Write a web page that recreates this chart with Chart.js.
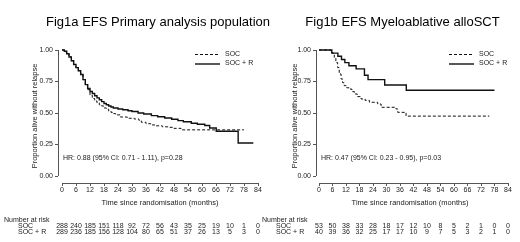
<!DOCTYPE html>
<html>
<head>
<meta charset="utf-8">
<script src="https://cdn.jsdelivr.net/npm/chart.js@4/dist/chart.umd.min.js"></script>
<style>
  body { margin: 0; background: #fff; }
  .panel { position: absolute; top: 0; height: 242px; }
  #p1 { left: 0; width: 290px; z-index: 1; }
  #p2 { left: 260px; width: 260px; z-index: 2; }
</style>
</head>
<body>
<div class="panel" id="p1"><canvas id="km1" width="290" height="242"></canvas></div>
<div class="panel" id="p2"><canvas id="km2" width="260" height="242"></canvas></div>
<script>
// Ticks
const xTicks = [0, 6, 12, 18, 24, 30, 36, 42, 48, 54, 60, 66, 72, 78, 84];
const yTicks = [0, 0.25, 0.5, 0.75, 1];

// Fig1a - primary analysis population
const aSocT = [0, 1, 2, 3, 4, 5, 6, 7, 8, 9, 10, 11, 12, 13, 14, 15, 16, 17, 18, 19, 20, 21, 22, 23, 25, 28, 31, 33, 34, 36, 38, 40, 43, 45.4, 48, 51, 78];
const aSocS = [1, 0.99, 0.97, 0.945, 0.915, 0.885, 0.86, 0.835, 0.805, 0.765, 0.725, 0.685, 0.64, 0.615, 0.595, 0.58, 0.565, 0.555, 0.54, 0.53, 0.515, 0.505, 0.495, 0.485, 0.468, 0.458, 0.452, 0.44, 0.426, 0.415, 0.405, 0.398, 0.39, 0.386, 0.378, 0.366, 0.366];
const aRT = [0, 1, 2, 3, 4, 5, 6, 7, 8, 9, 10, 11, 12, 13, 14, 15, 16, 17, 18, 19, 20, 21, 22, 24, 26, 28.3, 30, 32.6, 35, 38.3, 41, 44, 47, 49.7, 52, 55.4, 58, 61.2, 63.3, 66.1, 75.5, 82];
const aRS = [1, 0.99, 0.97, 0.945, 0.915, 0.885, 0.86, 0.835, 0.805, 0.765, 0.725, 0.695, 0.67, 0.655, 0.637, 0.62, 0.605, 0.59, 0.575, 0.565, 0.555, 0.548, 0.54, 0.532, 0.526, 0.518, 0.512, 0.5, 0.492, 0.479, 0.47, 0.46, 0.45, 0.439, 0.43, 0.418, 0.41, 0.4, 0.381, 0.355, 0.262, 0.262];
const aRiskSoc = [288, 240, 185, 151, 118, 92, 72, 56, 43, 35, 25, 19, 10, 1, 0];
const aRiskR = [289, 236, 185, 156, 128, 104, 80, 65, 51, 37, 26, 13, 5, 3, 0];

// Fig1b - myeloablative alloSCT
const bSocT = [0, 5.3, 6.2, 6.8, 7.5, 8.3, 9, 9.8, 10.5, 11.2, 12.3, 13.5, 14.6, 15.7, 17, 18.7, 20.5, 22.4, 26.1, 27.6, 34.2, 35, 38.7, 75.7];
const bSocS = [1, 0.98, 0.96, 0.94, 0.9, 0.86, 0.81, 0.77, 0.74, 0.717, 0.7, 0.69, 0.67, 0.651, 0.63, 0.611, 0.6, 0.585, 0.571, 0.545, 0.532, 0.505, 0.475, 0.475];
const bRT = [0, 5.7, 8.4, 10, 11.5, 13.3, 16.5, 20.2, 21.8, 29.2, 38.8, 78];
const bRS = [1, 0.975, 0.95, 0.925, 0.9, 0.875, 0.85, 0.8, 0.765, 0.722, 0.68, 0.68];
const bRiskSoc = [53, 50, 38, 33, 28, 18, 17, 12, 10, 8, 5, 2, 1, 0, 0];
const bRiskR = [40, 39, 36, 32, 25, 17, 17, 10, 9, 7, 5, 3, 2, 1, 0];

const FONT = '"Liberation Sans", Arial, sans-serif';
const INK = '#222';

function pts(t, s) {
  return t.map((v, i) => ({ x: v, y: s[i] }));
}

function makeChart(id, cfg) {
  const extras = {
    id: 'extras',
    beforeDatasetsDraw(chart) {
      const c = chart.ctx, x = chart.scales.x, y = chart.scales.y, a = chart.chartArea;
      c.save();
      c.strokeStyle = '#555';
      c.lineWidth = 1;
      c.beginPath();
      c.moveTo(a.left + 0.5, y.getPixelForValue(1));
      c.lineTo(a.left + 0.5, y.getPixelForValue(0));
      yTicks.forEach(v => {
        const py = Math.round(y.getPixelForValue(v)) + 0.5;
        c.moveTo(a.left - 3, py); c.lineTo(a.left, py);
      });
      c.moveTo(x.getPixelForValue(0), a.bottom + 0.5);
      c.lineTo(x.getPixelForValue(84), a.bottom + 0.5);
      xTicks.forEach(v => {
        const px = Math.round(x.getPixelForValue(v)) + 0.5;
        c.moveTo(px, a.bottom); c.lineTo(px, a.bottom + 3);
      });
      c.stroke();
      c.restore();
    },
    afterDraw(chart) {
      const c = chart.ctx, x = chart.scales.x;
      c.save();
      c.fillStyle = '#000';
      c.font = '13px ' + FONT;
      c.textAlign = 'center';
      c.textBaseline = 'alphabetic';
      c.fillText(cfg.title, cfg.titleX, 26);

      c.fillStyle = INK;
      c.font = '7.5px ' + FONT;
      c.textBaseline = 'middle';
      c.fillText('Time since randomisation (months)', cfg.xTitleX, 202.5);
      c.save();
      c.translate(35, 116);
      c.rotate(-Math.PI / 2);
      c.fillText('Proportion alive without relapse', 0, 0);
      c.restore();

      c.font = '7px ' + FONT;
      c.textAlign = 'left';
      c.fillText(cfg.hr, cfg.hrX, 158);

      // legend
      c.fillText('SOC', cfg.legX + 30, 54);
      c.fillText('SOC + R', cfg.legX + 30, 63.5);
      c.strokeStyle = '#111';
      c.lineWidth = 1;
      c.setLineDash([3, 2]);
      c.beginPath(); c.moveTo(cfg.legX, 54.5); c.lineTo(cfg.legX + 25, 54.5); c.stroke();
      c.setLineDash([]);
      c.lineWidth = 1.4;
      c.beginPath(); c.moveTo(cfg.legX, 64); c.lineTo(cfg.legX + 25, 64); c.stroke();

      // number at risk
      c.fillText('Number at risk', cfg.narX, 220.5);
      c.fillText('SOC', cfg.narX + 14, 226.5);
      c.fillText('SOC + R', cfg.narX + 14, 232.5);
      c.textAlign = 'center';
      xTicks.forEach((v, i) => {
        const px = x.getPixelForValue(v);
        c.fillText(String(cfg.riskSoc[i]), px, 226.5);
        c.fillText(String(cfg.riskR[i]), px, 232.5);
      });
      c.restore();
    }
  };

  return new Chart(document.getElementById(id), {
    type: 'line',
    data: {
      datasets: [{
        label: 'SOC',
        data: pts(cfg.socT, cfg.socS),
        stepped: 'before',
        borderColor: '#111',
        borderWidth: 1,
        borderDash: [3, 2],
        pointRadius: 0,
        fill: false,
        clip: false
      }, {
        label: 'SOC + R',
        data: pts(cfg.rT, cfg.rS),
        stepped: 'before',
        borderColor: '#111',
        borderWidth: 1.4,
        pointRadius: 0,
        fill: false,
        clip: false
      }]
    },
    options: {
      responsive: false,
      animation: false,
      devicePixelRatio: 1,
      layout: { padding: { top: 50, bottom: 39, left: 0, right: cfg.padRight } },
      plugins: { legend: { display: false }, tooltip: { enabled: false }, title: { display: false } },
      scales: {
        x: {
          type: 'linear',
          min: cfg.xMin,
          max: 84,
          afterBuildTicks: s => { s.ticks = xTicks.map(v => ({ value: v })); },
          afterFit: s => { s.height = 20; s.paddingLeft = 0; s.paddingRight = 0; },
          grid: { display: false, drawTicks: false },
          border: { display: false },
          ticks: { font: { family: FONT, size: 7 }, color: INK, padding: 3, maxRotation: 0, autoSkip: false }
        },
        y: {
          type: 'linear',
          min: -0.056,
          max: 1,
          afterBuildTicks: s => { s.ticks = yTicks.map(v => ({ value: v })); },
          afterFit: s => { s.width = cfg.yWidth; s.paddingTop = 0; s.paddingBottom = 0; },
          grid: { display: false, drawTicks: false },
          border: { display: false },
          ticks: { font: { family: FONT, size: 7 }, color: INK, padding: 5, callback: v => v.toFixed(2) }
        }
      }
    },
    plugins: [extras]
  });
}

makeChart('km1', {
  title: 'Fig1a EFS Primary analysis population', titleX: 158, xTitleX: 160,
  hr: 'HR: 0.88 (95% CI: 0.71 - 1.11), p=0.28', hrX: 63, legX: 195, narX: 4,
  socT: aSocT, socS: aSocS, rT: aRT, rS: aRS, riskSoc: aRiskSoc, riskR: aRiskR,
  xMin: -1.71, padRight: 32, yWidth: 58
});

makeChart('km2', {
  title: 'Fig1b EFS Myeloablative alloSCT', titleX: 142.5, xTitleX: 150,
  hr: 'HR: 0.47 (95% CI: 0.23 - 0.95), p=0.03', hrX: 61, legX: 189, narX: 2,
  socT: bSocT, socS: bSocS, rT: bRT, rS: bRS, riskSoc: bRiskSoc, riskR: bRiskR,
  xMin: -1.33, padRight: 12, yWidth: 56
});
</script>
</body>
</html>
